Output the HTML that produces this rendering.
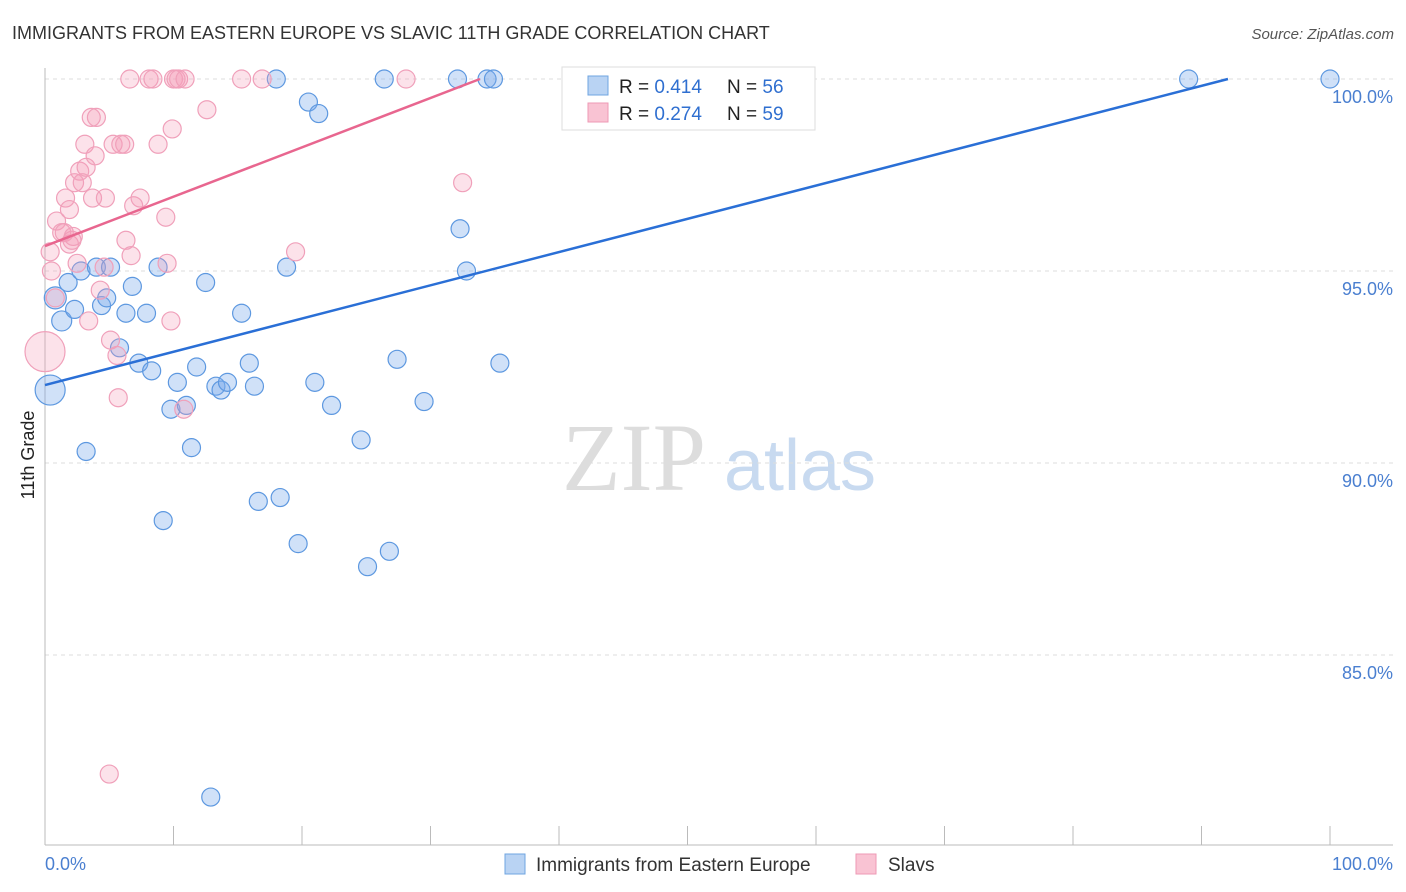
<!DOCTYPE html>
<html><head><meta charset="utf-8"><style>
body{margin:0;background:#fff;font-family:"Liberation Sans",sans-serif;}
svg{display:block}
</style></head><body>
<svg id="c" width="1406" height="892" xmlns="http://www.w3.org/2000/svg">
<text x="12" y="39" font-size="18" fill="#333">IMMIGRANTS FROM EASTERN EUROPE VS SLAVIC 11TH GRADE CORRELATION CHART</text>
<text x="1394" y="39" font-size="15" fill="#555" font-style="italic" text-anchor="end">Source: ZipAtlas.com</text>
<g>
<text x="634" y="490" font-size="96" fill="#ddd" font-family="Liberation Serif,serif" text-anchor="middle">ZIP</text>
<text x="800" y="490" font-size="72" fill="#c8daf0" text-anchor="middle">atlas</text>
</g>
<g id="grid"></g><g id="axes"></g><g id="pts"></g><g id="lines"></g>
<text transform="translate(34,455) rotate(-90)" font-size="18" fill="#222" text-anchor="middle">11th Grade</text>
<g>
<rect x="562" y="67" width="253" height="63" fill="#fff" stroke="#ddd"/>
<rect x="588" y="76" width="20" height="19" fill="#b9d3f3" stroke="#6fa4e0"/>
<rect x="588" y="103" width="20" height="19" fill="#f9c3d3" stroke="#ee9ab5"/>
<text x="619" y="93" font-size="19" fill="#222">R = <tspan fill="#2f6fd0">0.414</tspan><tspan x="727">N = </tspan><tspan fill="#2f6fd0">56</tspan></text>
<text x="619" y="120" font-size="19" fill="#222">R = <tspan fill="#2f6fd0">0.274</tspan><tspan x="727">N = </tspan><tspan fill="#2f6fd0">59</tspan></text>
</g>
<g>
<rect x="505" y="854" width="20" height="20" fill="#b9d3f3" stroke="#6fa4e0"/>
<text x="536" y="871" font-size="19" fill="#333">Immigrants from Eastern Europe</text>
<rect x="856" y="854" width="20" height="20" fill="#f9c3d3" stroke="#ee9ab5"/>
<text x="888" y="871" font-size="19" fill="#333">Slavs</text>
</g>
</svg>
<script>
const yTicks=[100,95,90,85];
const xTickVals=[0,10,20,30,40,50,60,70,80,90,100];
const blueX=[0.4,0.8,1.3,1.8,2.3,2.8,3.2,4.0,4.4,4.8,5.1,5.8,6.3,6.8,7.3,7.9,8.3,8.8,9.2,9.8,10.3,11.0,11.4,11.8,12.5,12.9,13.3,13.7,14.2,15.3,15.9,16.3,16.6,18.0,18.3,18.8,19.7,20.5,21.0,21.3,22.3,24.6,25.1,26.4,26.8,27.4,29.5,32.1,32.3,32.8,34.4,34.9,35.4,89.0,100.0];
const blueY=[91.9,94.3,93.7,94.7,94.0,95.0,90.3,95.1,94.1,94.3,95.1,93.0,93.9,94.6,92.6,93.9,92.4,95.1,88.5,91.4,92.1,91.5,90.4,92.5,94.7,81.3,92.0,91.9,92.1,93.9,92.6,92.0,89.0,100,89.1,95.1,87.9,99.4,92.1,99.1,91.5,90.6,87.3,100,87.7,92.7,91.6,100,96.1,95.0,100,100,92.6,100,100];
const blueR=[15,11,10,9,9,9,9,9,9,9,9,9,9,9,9,9,9,9,9,9,9,9,9,9,9,9,9,9,9,9,9,9,9,9,9,9,9,9,9,9,9,9,9,9,9,9,9,9,9,9,9,9,9,9,9];
const pinkX=[0.0,0.4,0.5,0.8,0.9,1.3,1.5,1.6,1.9,1.9,2.1,2.2,2.3,2.5,2.7,2.9,3.1,3.2,3.4,3.6,3.7,3.9,4.0,4.3,4.6,4.7,5.0,5.1,5.3,5.6,5.7,5.9,6.2,6.3,6.6,6.7,6.9,7.4,8.1,8.4,8.8,9.4,9.5,9.8,9.9,10.0,10.2,10.4,10.8,10.9,12.6,15.3,16.9,19.5,28.1,32.5];
const pinkY=[92.9,95.5,95.0,94.3,96.3,96.0,96.0,96.9,96.6,95.7,95.8,95.9,97.3,95.2,97.6,97.3,98.3,97.7,93.7,99.0,96.9,98.0,99.0,94.5,95.1,96.9,81.9,93.2,98.3,92.8,91.7,98.3,98.3,95.8,100,95.4,96.7,96.9,100,100,98.3,96.4,95.2,93.7,98.7,100,100,100,91.4,100,99.2,100,100,95.5,100,97.3];
const blueTrend=[92.03,100];const blueTrendX=[0,92.06];
const pinkTrend=[95.65,100];const pinkTrendX=[0,33.85];
const NS="http://www.w3.org/2000/svg";
const X=v=>45+v*12.85, Y=v=>79+(100-v)*38.4;
function mk(t,a,p){const e=document.createElementNS(NS,t);for(const k in a)e.setAttribute(k,a[k]);document.getElementById(p).appendChild(e);return e;}
yTicks.forEach(t=>{
 const l=mk('line',{x1:45,x2:1393,y1:Y(t),y2:Y(t),stroke:'#ddd','stroke-dasharray':'4,4'},'grid');
 
 
 const tx=mk('text',{x:1393,y:Y(t)+24,'font-size':18,fill:'#4a7fd0','text-anchor':'end'},'grid');tx.textContent=t.toFixed(1)+'%';
 
 
});
let a=mk('line',{x1:45,x2:45,y1:68,y2:845,stroke:'#bbb'},'axes');


a=mk('line',{x1:45,x2:1393,y1:845,y2:845,stroke:'#bbb'},'axes');


xTickVals.forEach(t=>{const l=mk('line',{x1:X(t),x2:X(t),y1:826,y2:845,stroke:'#bbb'},'axes');
 
 });
[[0,'0.0%','start',45],[100,'100.0%','end',1393]].forEach(d=>{const t=mk('text',{x:d[3],y:870,'font-size':18,fill:'#4a7fd0','text-anchor':d[2]},'axes');t.textContent=d[1];
 
 });
blueX.forEach((x,i)=>{const c=mk('circle',{cx:X(x),cy:Y(blueY[i]),r:blueR[i],fill:'rgba(120,170,235,0.35)',stroke:'#5d98e0','stroke-width':1.2},'pts');
 
 });
pinkX.forEach((x,i)=>{const c=mk('circle',{cx:X(x),cy:Y(pinkY[i]),r:i==0?20:9,fill:'rgba(245,160,185,0.3)',stroke:'#f0a0ba','stroke-width':1.2},'pts');
 
 });
let t1=mk('line',{x1:X(blueTrendX[0]),y1:Y(blueTrend[0]),x2:X(blueTrendX[1]),y2:Y(blueTrend[1]),stroke:'#2a6fd6','stroke-width':2.5},'lines');


let t2=mk('line',{x1:X(pinkTrendX[0]),y1:Y(pinkTrend[0]),x2:X(pinkTrendX[1]),y2:Y(pinkTrend[1]),stroke:'#e8668f','stroke-width':2.5},'lines');


</script>
</body></html>
